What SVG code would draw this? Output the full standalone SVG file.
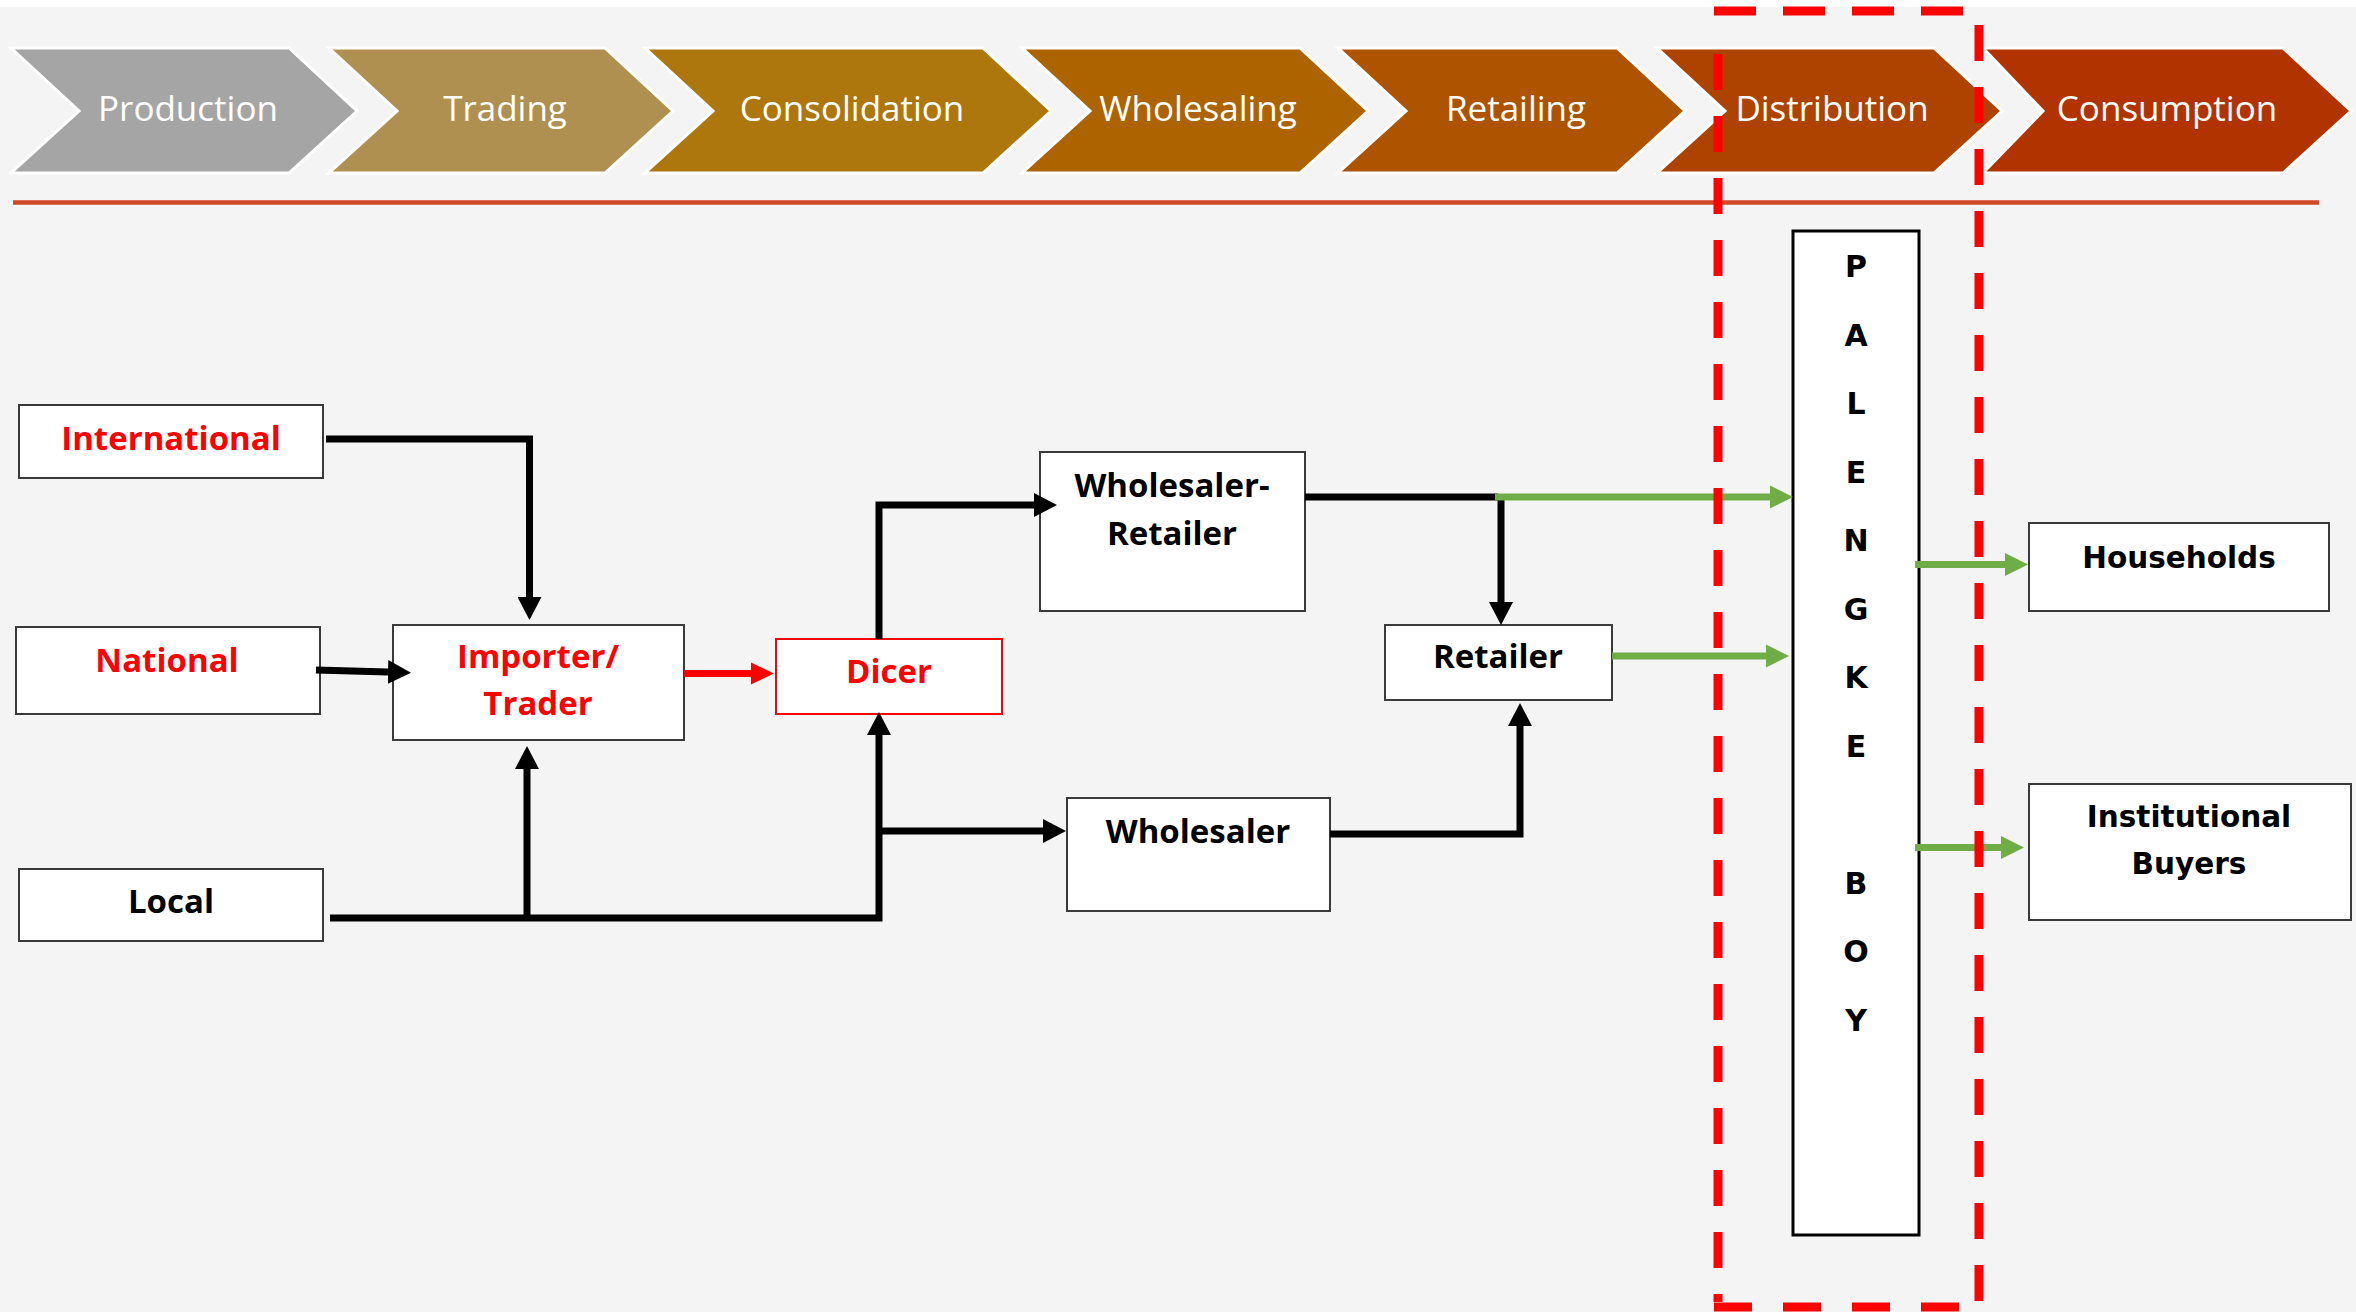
<svg xmlns="http://www.w3.org/2000/svg" width="2356" height="1312" viewBox="0 0 2356 1312">
<defs>
<style>
.chev{stroke:#ffffff;stroke-width:3;stroke-linejoin:miter}
.ct{font-family:"Open Sans","Liberation Sans",sans-serif;font-size:35px;fill:#ffffff;text-anchor:middle}
.box{fill:#ffffff;stroke:#3a3a3a;stroke-width:2}
.lb{font-family:"Open Sans","Liberation Sans",sans-serif;font-weight:700;font-size:33px;text-anchor:middle}
.red{fill:#ff0000}
.blk{fill:#000000}
.vb{font-family:"DejaVu Sans","Liberation Sans",sans-serif;font-weight:700;font-size:29.5px;text-anchor:middle;fill:#000000}
.pb{font-family:"DejaVu Sans","Liberation Sans",sans-serif;font-weight:700;font-size:30px;text-anchor:middle;fill:#000000}
.cb{fill:none;stroke:#000000;stroke-width:7;stroke-linejoin:miter}
.cg{fill:none;stroke:#70ad47;stroke-width:7}
.cr{fill:none;stroke:#ff0000;stroke-width:7}
.dash{stroke:#ff0000;stroke-width:9;fill:none}
</style>
<marker id="ab" markerUnits="userSpaceOnUse" markerWidth="24" markerHeight="24" viewBox="0 0 24 24" refX="0" refY="12" orient="auto"><path d="M0,0 L23,12 L0,24 Z" fill="#000000"/></marker>
<marker id="ag" markerUnits="userSpaceOnUse" markerWidth="24" markerHeight="24" viewBox="0 0 24 24" refX="0" refY="12" orient="auto"><path d="M0,0.5 L23,12 L0,23.5 Z" fill="#70ad47"/></marker>
<marker id="ar" markerUnits="userSpaceOnUse" markerWidth="24" markerHeight="24" viewBox="0 0 24 24" refX="0" refY="12" orient="auto"><path d="M0,1 L23,12 L0,23 Z" fill="#ff0000"/></marker>
</defs>
<rect x="0" y="0" width="2356" height="1312" fill="#ffffff"/>
<rect x="0" y="7" width="2356" height="1305" fill="#f4f4f4"/>

<g id="stages">
<g id="stage-production"><path class="chev" fill="#a5a5a5" d="M11,48 L289,48 L357,111 L289,173 L11,173 L79,111 Z"/><text class="ct" x="188" y="121">Production</text></g>
<g id="stage-trading"><path class="chev" fill="#b09050" d="M329,48 L605,48 L673,111 L605,173 L329,173 L397,111 Z"/><text class="ct" x="505" y="121">Trading</text></g>
<g id="stage-consolidation"><path class="chev" fill="#ad770e" d="M645,48 L983,48 L1051,111 L983,173 L645,173 L713,111 Z"/><text class="ct" x="852" y="121">Consolidation</text></g>
<g id="stage-wholesaling"><path class="chev" fill="#ad6400" d="M1022,48 L1300,48 L1368,111 L1300,173 L1022,173 L1090,111 Z"/><text class="ct" x="1198" y="121">Wholesaling</text></g>
<g id="stage-retailing"><path class="chev" fill="#ae5300" d="M1338,48 L1617,48 L1685,111 L1617,173 L1338,173 L1406,111 Z"/><text class="ct" x="1516" y="121">Retailing</text></g>
<g id="stage-distribution"><path class="chev" fill="#ae4300" d="M1657,48 L1934,48 L2002,111 L1934,173 L1657,173 L1725,111 Z"/><text class="ct" x="1832" y="121">Distribution</text></g>
<g id="stage-consumption"><path class="chev" fill="#b13400" d="M1983,48 L2283,48 L2351,111 L2283,173 L1983,173 L2043,111 Z"/><text class="ct" x="2167" y="121">Consumption</text></g>
</g>
<line x1="13" y1="202.5" x2="2319" y2="202.5" stroke="#d24726" stroke-width="4.5"/>

<g id="node-international"><rect class="box" x="19" y="405" width="304" height="73"/><text class="lb red" x="171" y="450">International</text></g>
<g id="node-national"><rect class="box" x="16" y="627" width="304" height="87"/><text class="lb red" x="167" y="672">National</text></g>
<g id="node-local"><rect class="box" x="19" y="869" width="304" height="72"/><text class="lb blk" x="171" y="913">Local</text></g>
<g id="node-importer"><rect class="box" x="393" y="625" width="291" height="115"/><text class="lb red" x="538" y="668">Importer/</text><text class="lb red" x="538" y="715">Trader</text></g>
<g id="node-dicer"><rect x="776" y="639" width="226" height="75" fill="#ffffff" stroke="#ff0000" stroke-width="2"/><text class="lb red" x="889" y="683">Dicer</text></g>
<g id="node-wholesaler-retailer"><rect class="box" x="1040" y="452" width="265" height="159"/><text class="lb blk" x="1172" y="497">Wholesaler-</text><text class="lb blk" x="1172" y="545">Retailer</text></g>
<g id="node-wholesaler"><rect class="box" x="1067" y="798" width="263" height="113"/><text class="lb blk" x="1198" y="843">Wholesaler</text></g>
<g id="node-retailer"><rect class="box" x="1385" y="625" width="227" height="75"/><text class="lb blk" x="1498" y="668">Retailer</text></g>
<g id="node-palengke-boy"><rect x="1793" y="231" width="126" height="1004" fill="#ffffff" stroke="#000000" stroke-width="3"/>
<text class="pb"><tspan x="1856" y="277">P</tspan><tspan x="1856" y="345.5">A</tspan><tspan x="1856" y="414">L</tspan><tspan x="1856" y="482.5">E</tspan><tspan x="1856" y="551">N</tspan><tspan x="1856" y="619.5">G</tspan><tspan x="1856" y="688">K</tspan><tspan x="1856" y="756.5">E</tspan><tspan x="1856" y="893.5">B</tspan><tspan x="1856" y="962">O</tspan><tspan x="1856" y="1030.5">Y</tspan></text></g>
<g id="node-households"><rect class="box" x="2029" y="523" width="300" height="88"/><text class="vb" x="2179" y="568">Households</text></g>
<g id="node-institutional-buyers"><rect class="box" x="2029" y="784" width="322" height="136"/><text class="vb" x="2189" y="827">Institutional</text><text class="vb" x="2189" y="874">Buyers</text></g>

<g id="connectors">
<path class="cb" d="M326,439 H529.5 V597" marker-end="url(#ab)"/>
<path class="cb" d="M316,670 L388,672" marker-end="url(#ab)"/>
<path class="cb" d="M330,918 H879 V735" marker-end="url(#ab)"/>
<path class="cb" d="M527,918 V769" marker-end="url(#ab)"/>
<path class="cb" d="M879,831 H1043" marker-end="url(#ab)"/>
<path class="cb" d="M879,639 V505 H1034" marker-end="url(#ab)"/>
<path class="cr" d="M684,673.5 H751" marker-end="url(#ar)"/>
<path class="cb" d="M1305,497 H1498"/>
<path class="cb" d="M1501,497 V602" marker-end="url(#ab)"/>
<path class="cg" d="M1495,497 H1770" marker-end="url(#ag)"/>
<path class="cb" d="M1330,834 H1520 V726" marker-end="url(#ab)"/>
<path class="cg" d="M1612,656 H1766" marker-end="url(#ag)"/>
<path class="cg" d="M1915,564.5 H2005" marker-end="url(#ag)"/>
<path class="cg" d="M1915,847.5 H2001" marker-end="url(#ag)"/>
</g>

<g id="distribution-boundary">
<line class="dash" x1="1714" y1="11" x2="1983" y2="11" stroke-dasharray="42 27"/>
<line class="dash" x1="1979" y1="25" x2="1979" y2="1302" stroke-dasharray="36 26"/>
<line class="dash" x1="1718" y1="54" x2="1718" y2="1302" stroke-dasharray="36 26"/>
<line class="dash" x1="1714" y1="1307" x2="1983" y2="1307" stroke-dasharray="38 31"/>
</g>
</svg>
